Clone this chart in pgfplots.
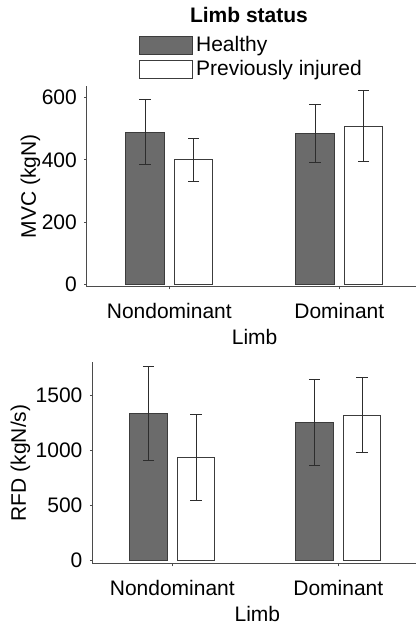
\documentclass[border=0pt]{standalone}
\usepackage{fontspec}
\setmainfont{Liberation Sans}
\usepackage{pgfplots}
\pgfplotsset{compat=1.18}
\definecolor{healthy}{RGB}{107,107,107}
\definecolor{edgegray}{RGB}{60,60,60}
\definecolor{axisgray}{RGB}{75,75,75}
\definecolor{errgray}{RGB}{45,45,45}

\pgfplotsset{
  limbaxis/.style={
    scale only axis,
    axis lines*=left,
    ybar,
    bar width=0.227,
    xtick={0,1},
    xticklabels={Nondominant,Dominant},
    xlabel={Limb},
    tick align=outside,
    major tick length=1.25pt,
    tick style={axisgray, line width=0.5pt},
    axis line style={axisgray, line width=0.5pt},
    /pgf/number format/assume math mode=true,
    /pgf/number format/1000 sep={},
    xticklabel style={anchor=north, yshift=-3.25pt},
    xlabel style={at={(axis description cs:0.51,0)}, anchor=base, yshift=-29pt},
    ylabel style={anchor=base, rotate=0},
    legend image code/.code={\draw[##1] (0pt,-4.6pt) rectangle (26.7pt,4.6pt);},
  },
  healthybar/.style={fill=healthy, draw=edgegray, line width=0.5pt, bar shift=0pt,
    error bars/.cd, y dir=both, y explicit,
    error bar style={errgray, line width=0.5pt},
    error mark options={rotate=90, mark size=2.8pt, errgray, line width=0.5pt}},
  injuredbar/.style={fill=white, draw=edgegray, line width=0.5pt, bar shift=0pt,
    error bars/.cd, y dir=both, y explicit,
    error bar style={errgray, line width=0.5pt},
    error mark options={rotate=90, mark size=2.8pt, errgray, line width=0.5pt}},
}

\begin{document}
\fontsize{10.5}{12.6}\selectfont
\begin{tikzpicture}
\useasboundingbox (0,0) rectangle (208.5pt,313pt);

\begin{axis}[
    limbaxis,
    at={(43.35pt,169.65pt)}, anchor=south west,
    width=164.65pt, height=100.5pt,
    xmin=-0.486, xmax=1.451,
    ymin=-7.7, ymax=638.6,
    ytick={0,200,400,600},
    ylabel={MVC (kgN)},
    ylabel style={at={(axis description cs:-0.154,0.5)}},
    legend style={at={(axis description cs:0.1567,1.262)}, anchor=north west,
      draw=none, fill=none, inner sep=0pt, row sep=-0.1pt,
      nodes={inner sep=1.5pt}},
    legend cell align=left,
]
\addplot[healthybar] coordinates {(-0.143,489) +- (0,105) (0.857,485) +- (0,92)};
\addplot[injuredbar] coordinates {(0.143,400) +- (0,69) (1.143,508) +- (0,114)};
\legend{Healthy, Previously injured}
\end{axis}

\node[font=\bfseries, anchor=base] at (124.5pt,301.5pt) {Limb status};

\begin{axis}[
    limbaxis,
    at={(46.15pt,31pt)}, anchor=south west,
    width=161.85pt, height=101.15pt,
    xmin=-0.482, xmax=1.468,
    ymin=-29.9, ymax=1804.7,
    ytick={0,500,1000,1500},
    ylabel={RFD (kgN/s)},
    ylabel style={at={(axis description cs:-0.205,0.5)}},
]
\addplot[healthybar] coordinates {(-0.143,1334) +- (0,423) (0.857,1252) +- (0,387)};
\addplot[injuredbar] coordinates {(0.143,937) +- (0,387) (1.143,1318) +- (0,339)};
\end{axis}
\end{tikzpicture}
\end{document}
